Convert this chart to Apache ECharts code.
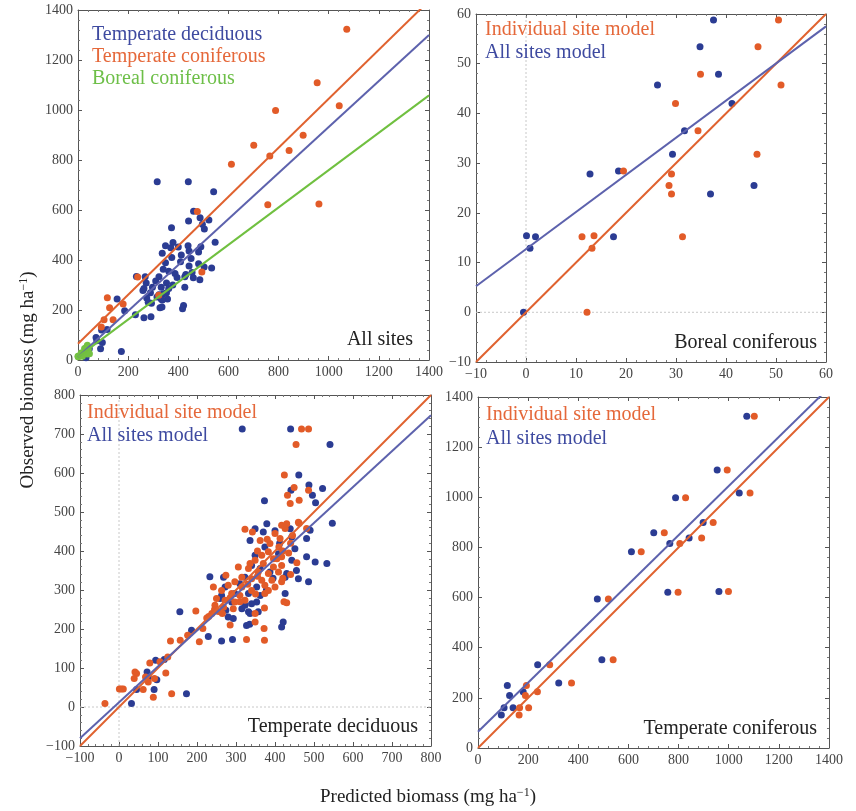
<!DOCTYPE html>
<html><head><meta charset="utf-8">
<script src="https://cdn.jsdelivr.net/npm/echarts@6/dist/echarts.min.js"></script>
<style>html,body{margin:0;padding:0;background:#fff}#c{width:856px;height:811px}</style>
</head><body><div id="c"></div>
<script>
// ---- data ----
// Temperate deciduous, all-sites model [predicted, observed]
const decidAll = [[316,713],[440,713],[541,673],[461,595],[373,529],[487,569],[441,556],[496,543],[504,524],[522,560],[547,471],[379,470],[349,457],[370,449],[336,427],[439,457],[490,453],[443,436],[481,432],[374,410],[349,389],[409,393],[451,406],[481,385],[503,372],[533,368],[443,376],[340,363],[362,355],[387,346],[430,342],[426,333],[460,329],[486,321],[268,333],[272,308],[310,316],[323,333],[353,308],[263,286],[297,291],[332,291],[362,286],[340,265],[353,269],[426,291],[315,252],[357,244],[332,244],[233,334],[259,278],[274,248],[289,269],[323,261],[336,240],[280,231],[293,227],[327,209],[335,212],[229,181],[263,169],[291,173],[421,218],[417,205],[156,244],[186,197],[94,120],[116,122],[72,90],[75,77],[97,70],[45,45],[90,45],[173,34],[32,9],[412,420],[395,330],[378,300],[400,452],[455,350]];
// Temperate deciduous, individual site model
const decidInd = [[424,595],[449,563],[432,543],[439,522],[462,530],[486,556],[454,673],[468,713],[486,713],[323,456],[342,449],[456,370],[481,458],[462,471],[426,458],[423,270],[430,267],[373,254],[349,240],[349,218],[372,201],[373,171],[327,173],[285,210],[274,338],[306,359],[242,308],[225,228],[206,167],[197,246],[215,201],[176,184],[157,171],[132,169],[125,128],[105,116],[79,113],[120,87],[75,64],[68,77],[91,73],[41,90],[45,86],[39,73],[62,45],[88,25],[135,34],[1,46],[11,46],[6,46],[-36,9],[417,466],[430,470],[460,474],[400,445],[413,432],[387,419],[362,427],[383,398],[366,389],[396,380],[417,385],[349,376],[336,368],[370,368],[396,359],[417,363],[332,355],[357,346],[383,342],[409,346],[315,333],[340,329],[366,325],[392,325],[417,321],[297,321],[280,312],[315,308],[340,299],[374,312],[400,308],[263,299],[289,291],[310,286],[250,278],[272,274],[297,269],[323,274],[383,299],[374,291],[246,261],[268,256],[293,252],[238,240],[255,245],[230,232],[285,280],[330,315],[355,335],[420,400],[440,420],[445,440],[410,410],[435,395],[380,430],[355,400],[405,380],[440,340],[420,330],[350,290],[310,270],[265,240],[245,250]];
// Temperate coniferous
const conifAll = [[1072,1323],[954,1109],[1042,1017],[788,998],[898,899],[842,838],[765,816],[701,859],[612,783],[757,621],[961,624],[476,594],[494,352],[238,332],[322,259],[117,249],[126,209],[180,224],[104,161],[140,161],[93,132]];
const conifInd = [[1102,1323],[994,1109],[1085,1017],[828,998],[938,899],[892,838],[805,816],[743,859],[651,783],[798,621],[999,624],[520,594],[539,352],[286,332],[373,259],[193,249],[189,209],[237,224],[166,161],[202,161],[164,132]];
// Boreal coniferous
const borealAll = [[0.1,15.4],[1.9,15.2],[0.8,12.9],[-0.5,0],[12.8,27.8],[18.5,28.4],[17.5,15.2],[26.3,45.7],[29.3,31.8],[31.7,36.5],[34.8,53.4],[37.5,58.8],[38.5,47.9],[36.9,23.8],[41.2,42.0],[45.6,25.5]];
const borealInd = [[11.2,15.2],[13.6,15.4],[13.2,12.9],[12.2,0],[19.5,28.4],[29.1,27.8],[28.6,25.5],[29.1,23.8],[29.9,42.0],[31.3,15.2],[34.4,36.5],[34.9,47.9],[46.4,53.4],[46.2,31.8],[50.5,58.8],[51.0,45.7]];
// fitted lines [intercept, slope]
const fitDecidAll = [12, 0.92];
const fitConifAll = [65, 0.98];
const fitBorealAll = [12.7, 0.747];
const fitIndividual = [0, 1];
// axis ranges [min, max, interval]
const axis1 = [0, 1400, 200];
const axis2 = [-10, 60, 10];
const axis3 = [-100, 800, 100];
const axis4 = [0, 1400, 200];

// ---- styles ----
const BLUE = '#2b3c93', ORANGE = '#e25b28', GREEN = '#74c142';
const LBLUE = '#5d62ad', LORANGE = '#e0622f', LGREEN = '#70c040';
const SERIF = '"Liberation Serif","DejaVu Serif",serif';

const grids = [
  {left:78, top:10, width:351, height:350},
  {left:476, top:14, width:350, height:348},
  {left:80, top:395, width:351, height:351},
  {left:478, top:397, width:351, height:351}
];
const ranges = [axis1, axis2, axis3, axis4];

const xAxes = [], yAxes = [];
function mkAxis(i, r, pos, isX, labels) {
  return {
    type:'value', gridIndex:i, min:r[0], max:r[1], interval:r[2], position:pos,
    axisLine:{show:true, onZero:false, lineStyle:{color:'#555', width:1}},
    axisTick:{show:true, inside:true, length:4, lineStyle:{color:'#555'}},
    minorTick:{show:true, splitNumber:5, length:2, lineStyle:{color:'#777'}},
    splitLine:{show:false},
    axisLabel:{show:labels, fontFamily:SERIF, fontSize:14, color:'#444', margin:5,
      formatter: v => String(v).replace('-', '\u2212')}
  };
}
for (let i = 0; i < 4; i++) {
  xAxes.push(mkAxis(i, ranges[i], 'bottom', true, true));
  yAxes.push(mkAxis(i, ranges[i], 'left', false, true));
}
for (let i = 0; i < 4; i++) {
  xAxes.push(mkAxis(i, ranges[i], 'top', true, false));
  yAxes.push(mkAxis(i, ranges[i], 'right', false, false));
}

function scatter(data, gi, color) {
  return {type:'scatter', xAxisIndex:gi, yAxisIndex:gi, data:data, symbolSize:7,
    itemStyle:{color:color, opacity:1}, z:2, silent:true};
}
function fit(coef, gi, color) {
  const r = ranges[gi];
  return {type:'line', xAxisIndex:gi, yAxisIndex:gi, showSymbol:false, clip:true, z:3, silent:true,
    data:[[r[0], coef[0] + coef[1]*r[0]], [r[1], coef[0] + coef[1]*r[1]]],
    lineStyle:{color:color, width:2}};
}
function zeroLines(gi) {
  const r = ranges[gi];
  const st = {color:'#c8c8c8', width:1, type:[2,2]};
  return [
    {type:'line', xAxisIndex:gi, yAxisIndex:gi, showSymbol:false, z:1, silent:true, data:[[0,r[0]],[0,r[1]]], lineStyle:st},
    {type:'line', xAxisIndex:gi, yAxisIndex:gi, showSymbol:false, z:1, silent:true, data:[[r[0],0],[r[1],0]], lineStyle:st}
  ];
}

const series = [
  // panel 1
  scatter(decidAll, 0, BLUE), scatter(conifAll, 0, ORANGE), scatter(borealAll, 0, GREEN),
  fit(fitConifAll, 0, LORANGE), fit(fitDecidAll, 0, LBLUE), fit(fitBorealAll, 0, LGREEN),
  // panel 2
  ...zeroLines(1),
  scatter(borealAll, 1, BLUE), scatter(borealInd, 1, ORANGE),
  fit(fitIndividual, 1, LORANGE), fit(fitBorealAll, 1, LBLUE),
  // panel 3
  ...zeroLines(2),
  scatter(decidAll, 2, BLUE), scatter(decidInd, 2, ORANGE),
  fit(fitIndividual, 2, LORANGE), fit(fitDecidAll, 2, LBLUE),
  // panel 4
  scatter(conifAll, 3, BLUE), scatter(conifInd, 3, ORANGE),
  fit(fitIndividual, 3, LORANGE), fit(fitConifAll, 3, LBLUE)
];

function txt(x, y, s, color, align, size) {
  return {type:'text', x:x, y:y, z:10, style:{text:s, fill:color, font:(size||20)+'px '+SERIF, align:align||'left', verticalAlign:'middle'}};
}
const TBLUE = '#3e4aa0', TORANGE = '#e5683a', TGREEN = '#6dbf48', TBLACK = '#222';
const graphics = [
  txt(92, 35, 'Temperate deciduous', TBLUE), txt(92, 57, 'Temperate coniferous', TORANGE), txt(92, 79, 'Boreal coniferous', TGREEN),
  txt(413, 340, 'All sites', TBLACK, 'right'),
  txt(485, 30, 'Individual site model', TORANGE), txt(485, 53, 'All sites model', TBLUE),
  txt(817, 343, 'Boreal coniferous', TBLACK, 'right'),
  txt(87, 413, 'Individual site model', TORANGE), txt(87, 436, 'All sites model', TBLUE),
  txt(418, 727, 'Temperate deciduous', TBLACK, 'right'),
  txt(486, 415, 'Individual site model', TORANGE), txt(486, 439, 'All sites model', TBLUE),
  txt(817, 729, 'Temperate coniferous', TBLACK, 'right'),
  {type:'text', x:28, y:380, rotation:Math.PI/2, z:10,
   style:{text:'{a|Observed biomass (mg ha}{s|−1}{a|)}', align:'center', verticalAlign:'middle',
     rich:{a:{font:'19px '+SERIF, fill:'#222'}, s:{font:'12px '+SERIF, fill:'#222', verticalAlign:'top', padding:[0,0,8,0]}}}},
  {type:'text', x:428, y:797, z:10,
   style:{text:'{a|Predicted biomass (mg ha}{s|−1}{a|)}', align:'center', verticalAlign:'middle',
     rich:{a:{font:'19px '+SERIF, fill:'#222'}, s:{font:'12px '+SERIF, fill:'#222', verticalAlign:'top', padding:[0,0,8,0]}}}}
];

const chart = echarts.init(document.getElementById('c'), null, {renderer:'canvas'});
chart.setOption({
  animation:false,
  backgroundColor:'#fff',
  grid:grids,
  xAxis:xAxes, yAxis:yAxes,
  series:series,
  graphic:graphics
});
</script></body></html>
